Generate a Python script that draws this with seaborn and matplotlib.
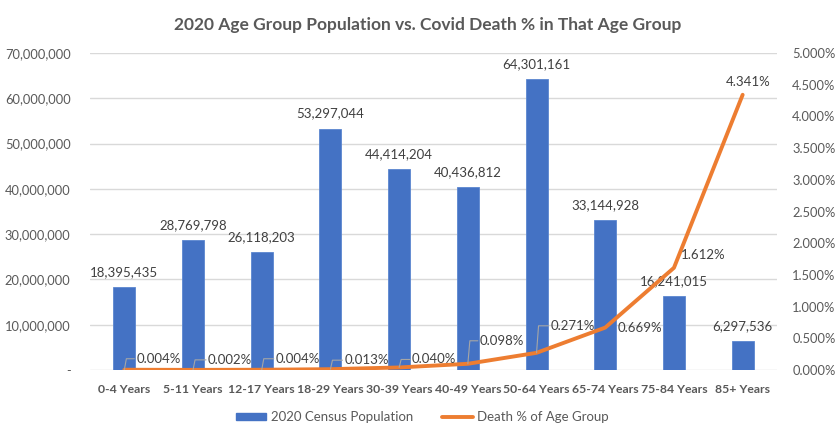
import numpy as np
import pandas as pd
import matplotlib
matplotlib.use("Agg")
import matplotlib.pyplot as plt
import seaborn as sns
from matplotlib.ticker import FuncFormatter, MultipleLocator
from matplotlib.patches import Patch
from matplotlib.lines import Line2D

# ---- data ----
categories = ["0-4 Years", "5-11 Years", "12-17 Years", "18-29 Years", "30-39 Years",
              "40-49 Years", "50-64 Years", "65-74 Years", "75-84 Years", "85+ Years"]
population = [18395435, 28769798, 26118203, 53297044, 44414204,
              40436812, 64301161, 33144928, 16241015, 6297536]
death_pct = [0.004, 0.002, 0.004, 0.013, 0.040, 0.098, 0.271, 0.669, 1.612, 4.341]

# label offsets (pixels) for the percentage labels, and whether a leader line is drawn
pct_offsets = [(34, 11), (37, 10), (36, 11), (36, 9), (35, 8), (34, 23), (36, 27), (35, 0), (29, 13), (6, 13)]
pct_leader = [True, True, True, True, True, True, True, False, False, False]

df = pd.DataFrame({"Age Group": categories, "Population": population, "Death %": death_pct})

sns.set_theme(style="white")
plt.rcParams["font.family"] = ["Lato", "DejaVu Sans"]

W, H = 840, 437
fig = plt.figure(figsize=(W / 100, H / 100), dpi=100)
ax = fig.add_axes([90 / W, 1 - 370 / H, (777 - 90) / W, (370 - 53) / H])

bar_color = "#4472C4"
line_color = "#ED7D31"
text_color = "#404040"
tick_color = "#595959"
grid_color = "#D9D9D9"

sns.barplot(data=df, x="Age Group", y="Population", color=bar_color, width=0.32,
            saturation=1, ax=ax, edgecolor="#5B86D0", linewidth=0.6)
ax.set_ylim(0, 70_000_000)
ax.set_xlim(-0.5, len(categories) - 0.5)
ax.yaxis.set_major_locator(MultipleLocator(10_000_000))
ax.yaxis.set_major_formatter(FuncFormatter(lambda v, p: "-" if v == 0 else f"{v:,.0f}"))
ax.grid(axis="y", color=grid_color, linewidth=1)
ax.set_axisbelow(True)
for s in ax.spines.values():
    s.set_visible(False)
ax.set_xlabel("")
ax.set_ylabel("")
ax.tick_params(axis="y", length=0, pad=14, labelsize=9.3, labelcolor=tick_color)
ax.tick_params(axis="x", length=0, pad=10, labelsize=8.8, labelcolor=tick_color)
for lab in ax.get_xticklabels():
    lab.set_fontweight("bold")

for i, v in enumerate(population):
    ax.annotate(f"{v:,}", (i, v), xytext=(0, 15), textcoords="offset pixels",
                ha="center", va="center", fontsize=9.5, color=text_color)

ax2 = ax.twinx()
sns.lineplot(data=df, x="Age Group", y="Death %", color=line_color, linewidth=2.8,
             ax=ax2, sort=False)
ax2.lines[0].set_solid_capstyle("round")
ax2.lines[0].set_solid_joinstyle("round")
ax2.set_ylim(0, 5)
ax2.set_xlim(-0.5, len(categories) - 0.5)
ax2.yaxis.set_major_locator(MultipleLocator(0.5))
ax2.yaxis.set_major_formatter(FuncFormatter(lambda v, p: f"{v:.3f}%"))
for s in ax2.spines.values():
    s.set_visible(False)
ax2.set_ylabel("")
ax2.tick_params(axis="y", length=0, pad=11, labelsize=9.3, labelcolor=tick_color)
ax2.grid(False)

inv = ax2.transData.inverted()
for i, (v, (dx, dy), lead) in enumerate(zip(death_pct, pct_offsets, pct_leader)):
    txt = f"{v:.3f}%"
    ax2.annotate(txt, (i, v), xytext=(dx, dy), textcoords="offset pixels",
                 ha="center", va="center", fontsize=9.5, color=text_color)
    if lead:
        px, py = ax2.transData.transform((i, v))
        pts = [(px, py), (px + 2, py + dy), (px + dx - 24, py + dy)]
        dpts = inv.transform(pts)
        ax2.plot(dpts[:, 0], dpts[:, 1], color="#A6A6A6", linewidth=0.8)

fig.text(428 / W, 1 - 25 / H, "2020 Age Group Population vs. Covid Death % in That Age Group",
         ha="center", va="center", fontsize=12.5, fontweight="bold", color=tick_color)

handles = [Patch(facecolor=bar_color, edgecolor=bar_color),
           Line2D([0], [0], color=line_color, linewidth=2.8)]
fig.legend(handles, ["2020 Census Population", "Death % of Age Group"],
           loc="center", bbox_to_anchor=(0.503, 1 - 417 / H), ncol=2, frameon=False,
           fontsize=9.5, labelcolor=tick_color, handlelength=2.3, handleheight=0.5,
           handletextpad=0.35, columnspacing=2.2)

fig.savefig("out.png", dpi=100)
